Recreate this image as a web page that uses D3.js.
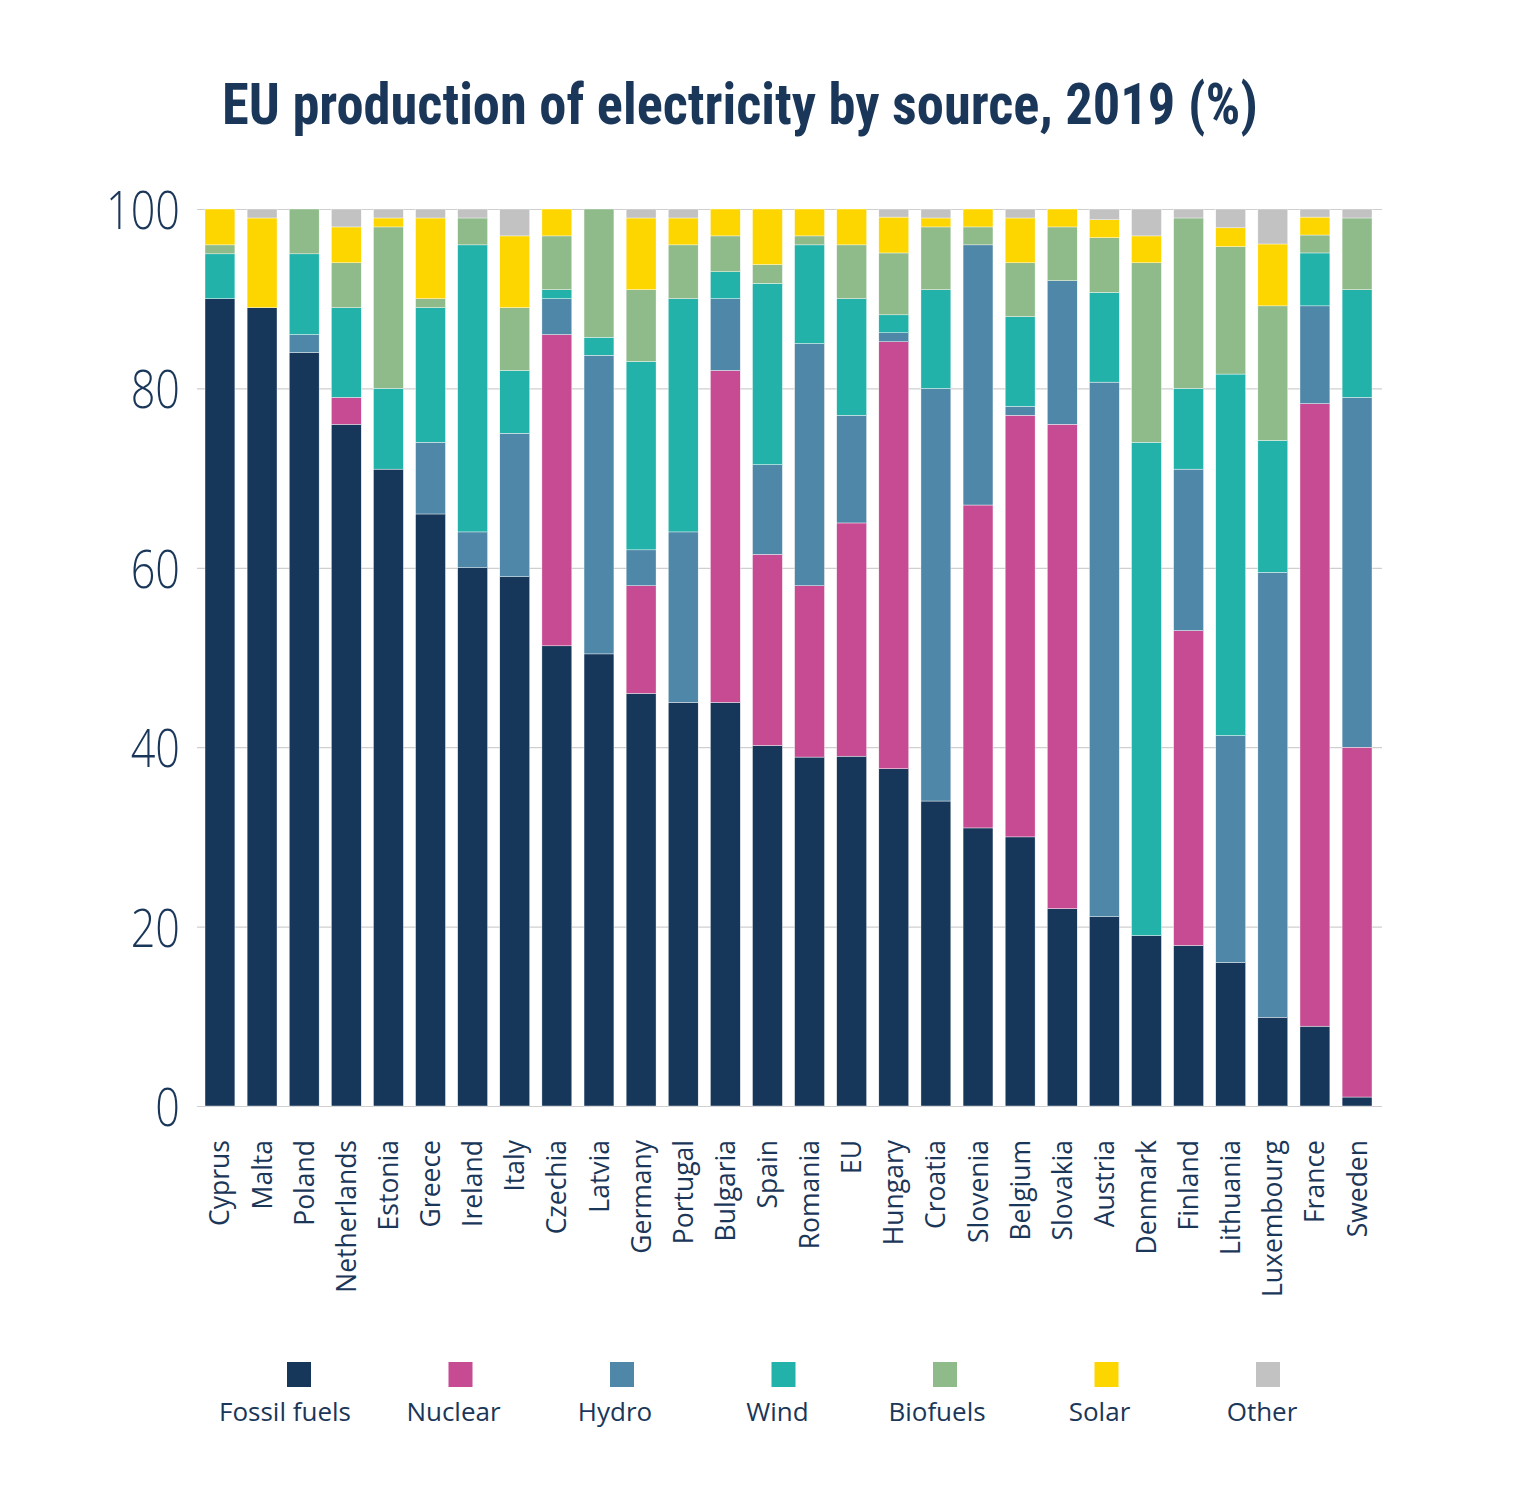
<!DOCTYPE html>
<html>
<head>
<meta charset="utf-8">
<script src="https://cdn.jsdelivr.net/npm/d3@7"></script>
<style>
  html, body { margin: 0; padding: 0; background: #fff; }
  svg { display: block; }
</style>
</head>
<body>
<svg id="chart" width="1513" height="1499"></svg>
<script>
const countries = ["Cyprus","Malta","Poland","Netherlands","Estonia","Greece","Ireland","Italy","Czechia","Latvia","Germany","Portugal","Bulgaria","Spain","Romania","EU","Hungary","Croatia","Slovenia","Belgium","Slovakia","Austria","Denmark","Finland","Lithuania","Luxembourg","France","Sweden"];

const fossil   = [90, 89, 84, 76, 71, 66, 60, 59, 51.3, 50.4, 46, 45, 45, 40.2, 38.9, 39, 37.6, 34, 31, 30, 22, 21.1, 19, 17.9, 16, 9.9, 8.9, 1];
const nuclear  = [0, 0, 0, 3, 0, 0, 0, 0, 34.7, 0, 12, 0, 37, 21.3, 19.1, 26, 47.6, 0, 36, 47, 54, 0, 0, 35.1, 0, 0, 69.4, 39];
const hydro    = [0, 0, 2, 0, 0, 8, 4, 16, 4, 33.3, 4, 19, 8, 10, 27, 12, 1, 46, 29, 1, 16, 59.6, 0, 18, 25.3, 49.6, 10.9, 39];
const wind     = [5, 0, 9, 10, 9, 15, 32, 7, 1, 2, 21, 26, 3, 20.2, 11, 13, 2, 11, 0, 10, 0, 10, 55, 9, 40.3, 14.7, 5.9, 12];
const biofuels = [1, 0, 5, 5, 18, 1, 3, 7, 6, 14.3, 8, 6, 4, 2.1, 1, 6, 6.9, 7, 2, 6, 6, 6.1, 20, 19, 14.2, 15, 2, 8];
const solar    = [4, 10, 0, 4, 1, 9, 0, 8, 3, 0, 8, 3, 3, 6.2, 3, 4, 4, 1, 2, 5, 2, 2, 3, 0, 2.1, 6.9, 2, 0];
const other    = [0, 1, 0, 2, 1, 1, 1, 3, 0, 0, 1, 1, 0, 0, 0, 0, 0.9, 1, 0, 1, 0, 1.2, 3, 1, 2.1, 3.9, 0.9, 1];

const seriesNames  = ["Fossil fuels","Nuclear","Hydro","Wind","Biofuels","Solar","Other"];
const seriesColors = ["#17375a","#c64b93","#4f87a8","#22b2a9","#8fbb8b","#fdd600","#c2c2c2"];
const yTicks = [0, 20, 40, 60, 80, 100];
const title = "EU production of electricity by source, 2019 (%)";

// layout-only: horizontal shift of each legend label relative to its swatch
const legendLabelShift = [-14, -7, -7, -6, -8, -7, -6];

const seriesValues = [fossil, nuclear, hydro, wind, biofuels, solar, other];
const rows = countries.map((c, i) => {
  const r = { country: c };
  seriesNames.forEach((s, k) => r[s] = seriesValues[k][i]);
  return r;
});

const svg = d3.select("#chart");
const navy = "#1a3658";

const x = d3.scaleBand().domain(countries).range([205, 1372]).paddingInner(0.29).paddingOuter(0);
const y = d3.scaleLinear().domain([0, 100]).range([1106, 209]);
const color = d3.scaleOrdinal().domain(seriesNames).range(seriesColors);

// Title
svg.append("text")
  .attr("x", 222).attr("y", 124)
  .attr("textLength", 1036).attr("lengthAdjust", "spacingAndGlyphs")
  .attr("font-family", "'Liberation Sans Narrow','Roboto Condensed','Liberation Sans',sans-serif")
  .attr("font-weight", "bold").attr("font-size", 57)
  .attr("fill", navy)
  .text(title);

// Grid + y axis
const yAxis = d3.axisLeft(y).tickValues(yTicks).tickSize(-(1382 - 197)).tickPadding(0);
const gy = svg.append("g").attr("transform", "translate(197,0)").call(yAxis);
gy.select(".domain").remove();
gy.selectAll(".tick line").attr("stroke", "#cfcfcf").attr("stroke-width", 1.2);
gy.selectAll(".tick text")
  .attr("x", -17 / 0.8)
  .attr("dy", "0.36em")
  .attr("transform", "scale(0.8,1)")
  .attr("text-anchor", "end")
  .attr("font-family", "'Open Sans','Noto Sans',sans-serif")
  .attr("font-weight", 300)
  .attr("font-size", 54)
  .attr("fill", navy);

// Bars
const stack = d3.stack().keys(seriesNames);
const stacked = stack(rows);
svg.append("g").selectAll("g")
  .data(stacked).join("g")
  .attr("fill", d => color(d.key))
  .selectAll("rect")
  .data(d => d).join("rect")
  .attr("x", d => x(d.data.country))
  .attr("width", x.bandwidth())
  .attr("y", d => y(d[1]))
  .attr("height", d => Math.max(0, y(d[0]) - y(d[1])))
  .attr("stroke", d => (d[1] - d[0]) > 0 ? "#ffffff" : "none")
  .attr("stroke-width", 0.4);

// X axis labels
const xAxis = d3.axisBottom(x).tickSize(0).tickPadding(0);
const gx = svg.append("g").attr("transform", "translate(0,1140)").call(xAxis);
gx.select(".domain").remove();
gx.selectAll(".tick text")
  .attr("transform", "rotate(-90)")
  .attr("x", 0).attr("y", 0)
  .attr("dy", "0.36em")
  .attr("text-anchor", "end")
  .attr("font-family", "'Open Sans','Noto Sans',sans-serif")
  .attr("font-size", 26.5)
  .attr("fill", navy);

// Legend
const lx = d3.scalePoint().domain(seriesNames).range([299, 1268]);
const leg = svg.append("g").selectAll("g").data(seriesNames).join("g");
leg.append("rect")
  .attr("x", d => lx(d) - 12).attr("y", 1362)
  .attr("width", 24).attr("height", 25)
  .attr("fill", d => color(d));
leg.append("text")
  .attr("x", (d, i) => lx(d) + legendLabelShift[i]).attr("y", 1421)
  .attr("text-anchor", "middle")
  .attr("font-family", "'Open Sans','Noto Sans',sans-serif")
  .attr("font-size", 26)
  .attr("fill", navy)
  .text(d => d);
</script>
</body>
</html>
